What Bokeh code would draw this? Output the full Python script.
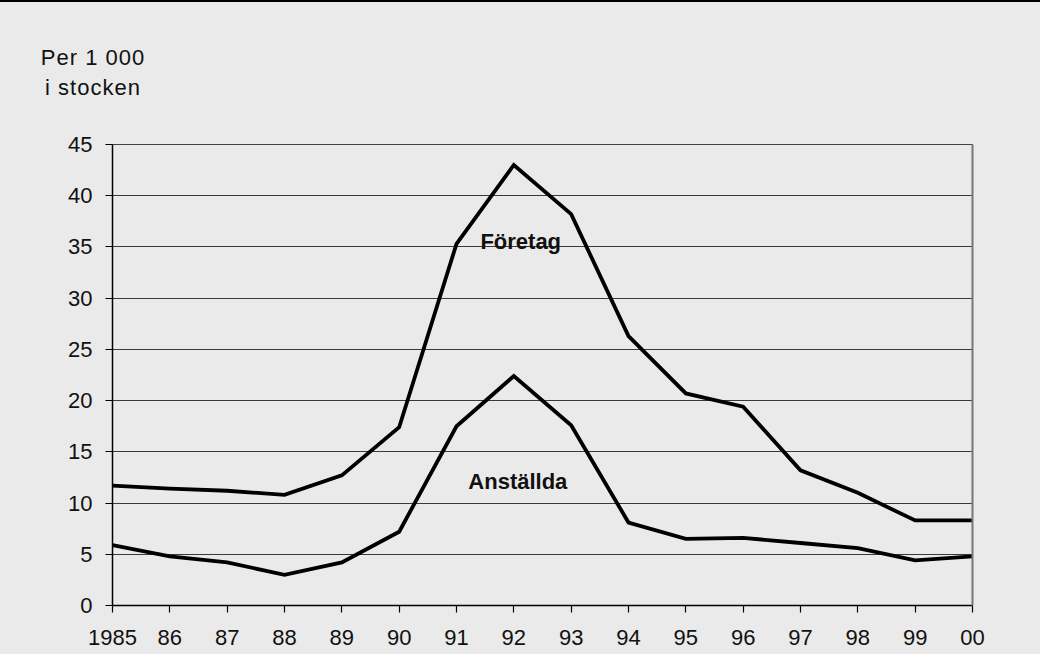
from bokeh.plotting import figure
from bokeh.models import Range1d, FixedTicker, Label, Div, LinearAxis
from bokeh.layouts import column
from bokeh.embed import file_html
from bokeh.resources import INLINE

years = [1985, 1986, 1987, 1988, 1989, 1990, 1991, 1992, 1993, 1994, 1995, 1996, 1997, 1998, 1999, 2000]
tick_labels = ["1985", "86", "87", "88", "89", "90", "91", "92", "93", "94", "95", "96", "97", "98", "99", "00"]
foretag = [11.7, 11.4, 11.2, 10.8, 12.7, 17.4, 35.3, 43.0, 38.2, 26.3, 20.7, 19.4, 13.2, 11.0, 8.3, 8.3]
anstallda = [5.9, 4.8, 4.2, 3.0, 4.2, 7.2, 17.5, 22.4, 17.6, 8.1, 6.5, 6.6, 6.1, 5.6, 4.4, 4.8]
y_ticks = [0, 5, 10, 15, 20, 25, 30, 35, 40, 45]
axis_title = ["Per 1 000", "i stocken"]

BG = "#eaeaea"
FONT = "Liberation Sans"
FS = "22px"

p = figure(width=1040, height=544, output_backend="svg", toolbar_location=None,
           x_range=Range1d(1985, 2000), y_range=Range1d(0, 45),
           min_border_left=112, min_border_right=68, min_border_top=34, min_border_bottom=49,
           margin=0)
p.background_fill_color = BG
p.border_fill_color = BG
p.outline_line_color = "#444444"
p.outline_line_width = 1

p.xgrid.grid_line_color = None
p.ygrid.grid_line_color = "#3a3a3a"
p.ygrid.grid_line_width = 1
p.ygrid.ticker = FixedTicker(ticks=y_ticks)

for ax in (p.xaxis[0], p.yaxis[0]):
    ax.axis_line_color = "black"
    ax.axis_line_width = 1.5
    ax.major_tick_line_color = "black"
    ax.major_tick_line_width = 1.2
    ax.major_tick_out = 7
    ax.major_tick_in = 0
    ax.minor_tick_line_color = None
    ax.major_label_text_font = FONT
    ax.major_label_text_font_size = FS
    ax.major_label_text_color = "#111111"

p.yaxis[0].major_label_standoff = 13
p.xaxis[0].major_label_standoff = 17

p.xaxis[0].ticker = FixedTicker(ticks=years)
p.xaxis[0].major_label_overrides = {y: t for y, t in zip(years, tick_labels)}
p.yaxis[0].ticker = FixedTicker(ticks=y_ticks)

right = LinearAxis(ticker=FixedTicker(ticks=[]), axis_line_color="#777777", axis_line_width=2,
                   major_label_text_font_size="0px", major_tick_line_color=None,
                   minor_tick_line_color=None)
p.add_layout(right, "right")

p.line(years, foretag, line_color="black", line_width=3.8, line_join="miter")
p.line(years, anstallda, line_color="black", line_width=3.8, line_join="miter")

p.add_layout(Label(x=1992.12, y=35.5, text="Företag", text_font=FONT, text_font_size=FS,
                   text_font_style="bold", text_align="center", text_baseline="alphabetic",
                   text_color="#111111"))
p.add_layout(Label(x=1992.07, y=12.08, text="Anställda", text_font=FONT, text_font_size=FS,
                   text_font_style="bold", text_align="center", text_baseline="alphabetic",
                   text_color="#111111"))

top_line = Div(width=1040, height=2, margin=0, styles={"background-color": "black"})
title_html = ('<div style="width:186px;text-align:center;font-family:\'Liberation Sans\';'
              'font-size:22px;letter-spacing:1px;line-height:30px;color:#111111;padding-top:41px;">'
              + "<br>".join(axis_title) + "</div>")
title_div = Div(text=title_html, width=1040, height=108, margin=0,
                styles={"background-color": BG})
layout = column(top_line, title_div, p, spacing=0, styles={"background-color": BG})

open("out.html", "w").write(file_html(layout, INLINE))
